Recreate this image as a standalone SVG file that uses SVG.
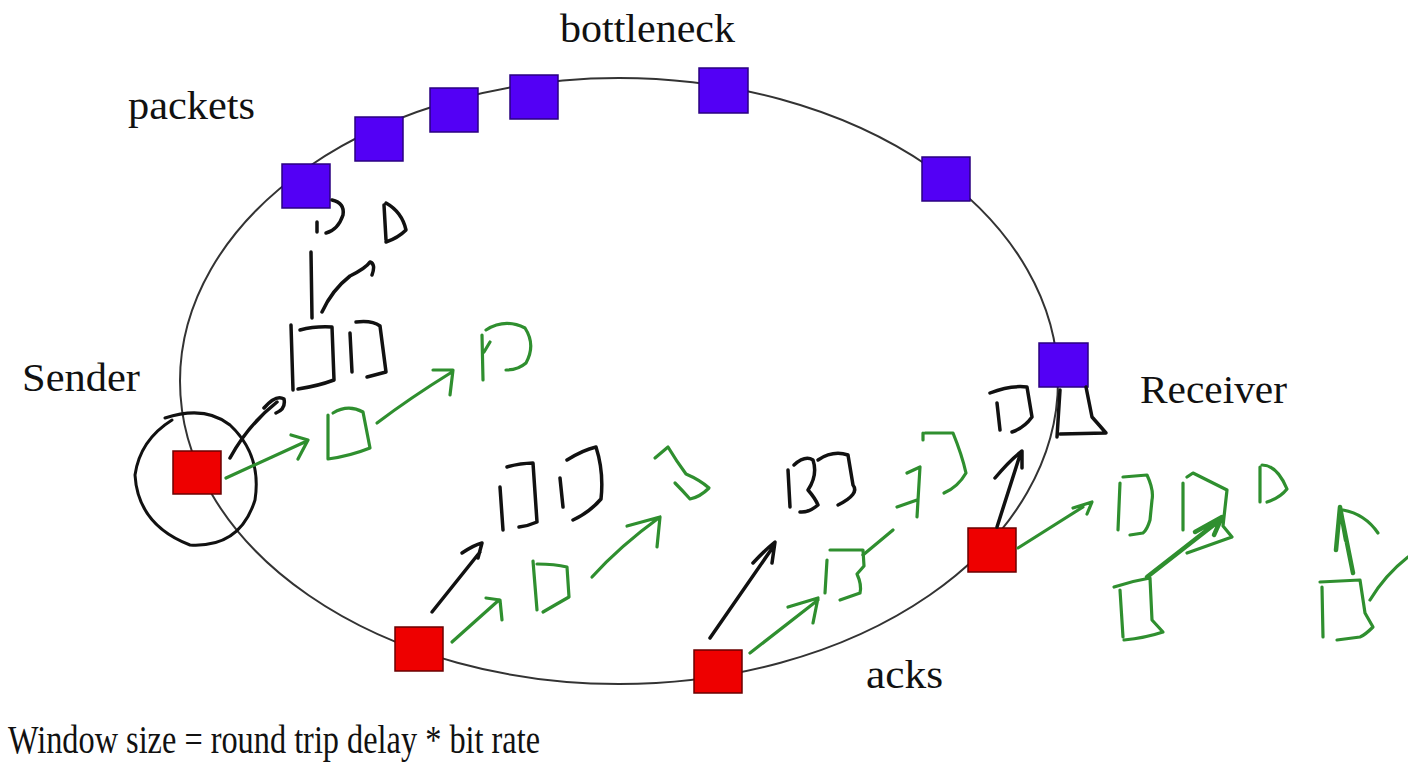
<svg xmlns="http://www.w3.org/2000/svg" width="1408" height="773" viewBox="0 0 1408 773">
<style>
.lbl{font-size:41px;fill:#111}
.pk{fill:#5300f5;stroke:#2a0080;stroke-width:1.5}
.ak{fill:#ee0000;stroke:#6a0000;stroke-width:1.5}
.ink{fill:none;stroke:#111;stroke-width:3.5;stroke-linecap:round;stroke-linejoin:round}
.gr{fill:none;stroke:#2f8f2f;stroke-width:3.2;stroke-linecap:round;stroke-linejoin:round}
.ring{fill:none;stroke:#333;stroke-width:2}
</style>
<rect width="1408" height="773" fill="#fff"/>
<g id="ring"><ellipse class="ring" cx="619" cy="381" rx="439" ry="303"/></g>
<g id="packets">
<rect class="pk" x="282" y="164" width="48" height="44"/>
<rect class="pk" x="355" y="117" width="48" height="44"/>
<rect class="pk" x="430" y="88" width="48" height="44"/>
<rect class="pk" x="510" y="75" width="48" height="44"/>
<rect class="pk" x="699" y="68" width="49" height="45"/>
<rect class="pk" x="922" y="157" width="48" height="44"/>
<rect class="pk" x="1039" y="343" width="49" height="44"/>
</g>
<g id="acks">
<rect class="ak" x="173" y="451" width="48" height="43"/>
<rect class="ak" x="395" y="627" width="48" height="44"/>
<rect class="ak" x="694" y="650" width="48" height="43"/>
<rect class="ak" x="968" y="528" width="48" height="44"/>
</g>
<g id="labels" font-family="'Liberation Serif', 'DejaVu Serif', serif">
<text class="lbl" x="560" y="42" textLength="175" lengthAdjust="spacingAndGlyphs">bottleneck</text>
<text class="lbl" x="128" y="119" textLength="127" lengthAdjust="spacingAndGlyphs">packets</text>
<text class="lbl" x="22" y="391" textLength="118" lengthAdjust="spacingAndGlyphs">Sender</text>
<text class="lbl" x="1140" y="403" textLength="147" lengthAdjust="spacingAndGlyphs">Receiver</text>
<text class="lbl" x="866" y="688" textLength="77" lengthAdjust="spacingAndGlyphs">acks</text>
<text class="lbl" x="8" y="753" textLength="532" lengthAdjust="spacingAndGlyphs">Window size = round trip delay * bit rate</text>
</g>
<g id="black-ink">
<path class="ink" d="M172,420 Q140,440 135,475 Q138,525 190,545 Q240,548 255,500 Q262,455 230,425 Q205,405 165,418" style="stroke-width:3"/>
<path class="ink" d="M230,458 Q248,425 277,402 M264,408 Q276,394 284,399 Q286,409 276,413"/>
<path class="ink" d="M332,200 Q345,203 343,215 Q338,230 326,233 M317,222 L317,232"/>
<path class="ink" d="M384,205 L386,240 M386,203 Q402,212 406,230 Q398,238 386,242"/>
<path class="ink" d="M312,318 L311,252 M322,312 Q332,290 350,276 Q366,268 370,262 Q376,264 372,275"/>
<path class="ink" d="M291,325 L293,390 M300,330 Q315,326 332,327 L334,380 Q318,386 298,389"/>
<path class="ink" d="M350,333 L352,372 M356,322 Q372,320 380,326 L386,372 L367,377"/>
<path class="ink" d="M432,612 L480,552 M462,553 Q474,545 482,543 L478,558"/>
<path class="ink" d="M500,487 L503,530 M507,467 Q520,463 533,463 L537,522 Q528,526 519,527"/>
<path class="ink" d="M560,478 L563,507 M567,460 Q583,450 596,447 Q604,472 601,499 Q590,512 573,520"/>
<path class="ink" d="M710,638 L773,547 M753,563 Q765,550 775,542 L772,563"/>
<path class="ink" d="M788,470 L790,507 M794,465 Q805,455 813,460 Q818,475 808,490 Q815,498 818,505 Q808,513 800,512"/>
<path class="ink" d="M818,460 Q833,450 848,455 L853,485 Q860,494 838,505"/>
<path class="ink" d="M997,527 L1020,455 M995,478 Q1010,460 1022,451 L1022,468"/>
<path class="ink" d="M990,393 Q1010,385 1027,387 L1032,417 Q1024,428 1012,432 M997,403 L1000,430"/>
<path class="ink" d="M1060,390 L1057,437 M1086,387 L1092,417 Q1100,426 1106,433 L1060,434"/>
</g>
<g id="green-ink">
<path class="gr" d="M226,478 L307,441 M291,435 L308,440 L298,459"/>
<path class="gr" d="M328,415 L328,459 Q350,456 370,448 L363,412 Q348,404 333,413"/>
<path class="gr" d="M377,423 Q410,398 452,372 M433,370 L453,370 L450,395"/>
<path class="gr" d="M482,335 L483,380 M486,330 Q505,318 525,328 Q536,345 526,363 Q518,370 506,370 M484,352 L490,342"/>
<path class="gr" d="M452,642 L499,600 M486,598 L500,600 L502,620"/>
<path class="gr" d="M533,561 L537,610 M537,564 Q555,564 567,567 L569,597 Q555,605 543,612"/>
<path class="gr" d="M592,577 Q620,546 660,517 M627,526 L660,517 L657,547"/>
<path class="gr" d="M655,458 L668,447 Q677,462 686,474 Q700,480 709,488 Q700,497 690,499 Q682,490 675,483"/>
<path class="gr" d="M750,653 L818,600 M788,607 L818,598 L813,623"/>
<path class="gr" d="M827,560 L825,593 M830,550 L863,550 L864,566 L857,574 Q862,585 860,593 L840,600"/>
<path class="gr" d="M863,555 L893,530 M897,507 L917,500 M907,473 L920,467 L917,517"/>
<path class="gr" d="M923,433 L923,440 M925,433 L953,433 Q962,455 966,473 Q958,487 944,493"/>
<path class="gr" d="M1018,548 L1083,507 M1073,508 L1092,502 L1087,514"/>
<path class="gr" d="M1120,483 L1118,530 M1123,477 L1147,475 Q1154,490 1152,500 L1150,520 Q1147,530 1143,533 L1130,535"/>
<path class="gr" d="M1183,483 L1183,530 M1187,477 L1193,473 L1227,490 L1223,526 L1232,537 L1187,553"/>
<path class="gr" d="M1147,577 L1220,520 M1195,532 L1222,517 L1214,535" style="stroke-width:4.5"/>
<path class="gr" d="M1260,467 L1260,502 M1262,465 Q1277,465 1287,489 Q1280,498 1267,502"/>
<path class="gr" d="M1114,587 Q1132,581 1150,578 L1152,620 L1163,632 Q1145,638 1124,640 M1120,590 L1123,637"/>
<path class="gr" d="M1353,573 L1340,508 M1336,550 L1340,507 L1346,540" style="stroke-width:4.5"/>
<path class="gr" d="M1343,510 Q1365,514 1378,533"/>
<path class="gr" d="M1322,587 L1323,637 M1320,582 L1360,580 L1365,613 L1373,627 Q1365,635 1360,637 L1337,640"/>
<path class="gr" d="M1370,600 Q1385,575 1408,557"/>
</g>
</svg>
